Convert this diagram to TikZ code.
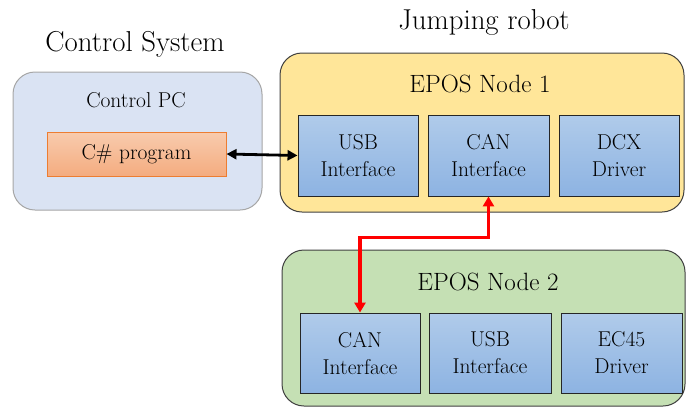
\documentclass[tikz,border=0pt]{standalone}
\usetikzlibrary{arrows.meta}
\definecolor{ctrlfill}{HTML}{DAE3F3}
\definecolor{ctrlline}{HTML}{A6A6A6}
\definecolor{yelfill}{HTML}{FFE699}
\definecolor{grnfill}{HTML}{C5E0B4}
\definecolor{outline}{HTML}{404040}
\definecolor{bluetop}{HTML}{B0CBEA}
\definecolor{bluebot}{HTML}{8DB3E2}
\definecolor{orgtop}{HTML}{F8CBAD}
\definecolor{orgbot}{HTML}{F4AC80}
\definecolor{orgline}{HTML}{ED7D31}
\definecolor{redline}{HTML}{FF0000}
\tikzset{
  outerbox/.style={draw=outline, line width=1pt, rounded corners=22pt, inner sep=0pt},
  innerbox/.style={draw=black!85, line width=0.9pt, top color=bluetop, bottom color=bluebot,
    minimum width=120pt, minimum height=81pt, inner sep=0pt, align=center,
    font=\fontsize{21.5}{27}\selectfont},
  progbox/.style={draw=orgline, line width=1pt, top color=orgtop, bottom color=orgbot,
    minimum width=179pt, minimum height=44pt, inner sep=0pt, font=\fontsize{21.5}{26}\selectfont},
  title/.style={font=\fontsize{28.8}{32}\selectfont, inner sep=0pt},
  heading/.style={font=\fontsize{25}{28}\selectfont, inner sep=0pt},
  sublabel/.style={font=\fontsize{21.5}{26}\selectfont, inner sep=0pt},
  link/.style={line width=2.8pt, {Triangle[length=10pt,width=10pt]}-{Triangle[length=10pt,width=10pt]}},
  canlink/.style={line width=3.5pt, draw=redline, {Triangle[length=10pt,width=11pt]}-{Triangle[length=10pt,width=11pt]}}
}
\begin{document}
\begin{tikzpicture}[x=1pt,y=-1pt]
\useasboundingbox (0,0) rectangle (686,408);
% titles
\node[title] (tcs) at (135,44) {Control System};
\node[title] (tjr) at (484,22) {Jumping robot};
% control system
\node[outerbox, draw=ctrlline, fill=ctrlfill, minimum width=249pt, minimum height=138pt] (ctrl) at (137.5,141) {};
\node[sublabel] (cpc) at (136,100) {Control PC};
\node[progbox] (prog) at (136.5,154) {C\# program};
% node 1
\node[outerbox, fill=yelfill, minimum width=404pt, minimum height=159pt] (n1) at (482,132.5) {};
\node[heading] (n1t) at (480,84) {EPOS Node 1};
\node[innerbox] (usb1) at (358,155.5) {USB\\Interface};
\node[innerbox, minimum width=121pt] (can1) at (488.5,155.5) {CAN\\Interface};
\node[innerbox] (dcx) at (619,155.5) {DCX\\Driver};
% node 2
\node[outerbox, fill=grnfill, minimum width=403pt, minimum height=156pt] (n2) at (483.5,328) {};
\node[heading] (n2t) at (488,282) {EPOS Node 2};
\node[innerbox, minimum height=80pt] (can2) at (360,353) {CAN\\Interface};
\node[innerbox, minimum height=80pt, minimum width=122pt] (usb2) at (490,353) {USB\\Interface};
\node[innerbox, minimum height=80pt, minimum width=121pt] (ec) at (621.5,353) {EC45\\Driver};
% connectors
\draw[link] (prog.east) -- (usb1.west);
\draw[canlink] (can1.south) -- ++(0,41) -| (can2.north);
\end{tikzpicture}
\end{document}
